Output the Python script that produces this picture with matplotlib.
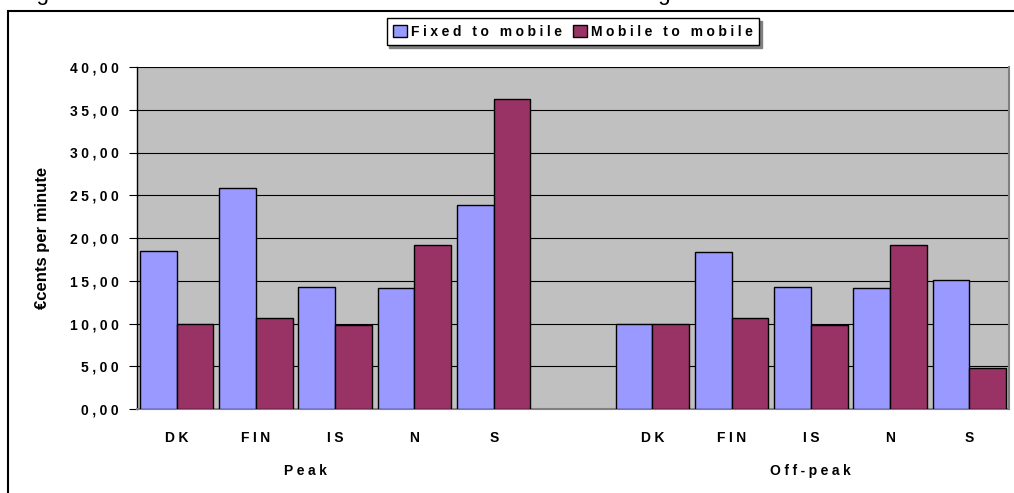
import matplotlib
matplotlib.use("Agg")
import matplotlib.pyplot as plt
from matplotlib.patches import Rectangle, Patch
from matplotlib.transforms import blended_transform_factory

plt.rcParams['font.family'] = ['Liberation Sans', 'DejaVu Sans']

# data
countries = ['DK', 'FIN', 'IS', 'N', 'S']
periods = ['Peak', 'Off-peak']
fixed_peak = [18.5, 25.8, 14.3, 14.2, 23.9]
mobile_peak = [10.0, 10.7, 9.8, 19.2, 36.3]
fixed_off = [10.0, 18.4, 14.3, 14.2, 15.1]
mobile_off = [10.0, 10.7, 9.8, 19.2, 4.8]
yticks = [0, 5, 10, 15, 20, 25, 30, 35, 40]

FIXED = '#9999FF'
MOBILE = '#993366'
SEP = '\u2005'  # a bit of letter spacing like the Excel rendering


def spaced(s):
    return SEP.join(s)


# slot positions: 5 peak, one empty slot, 5 off-peak
pos_peak = list(range(5))
pos_off = [p + 6 for p in range(5)]
w = 0.463

fig = plt.figure(figsize=(10.14, 4.93), dpi=100)
ax = fig.add_axes([137 / 1014, 1 - 409 / 493, 872 / 1014, 342 / 493])
ax.set_facecolor('#C0C0C0')

ax.bar([p - w / 2 for p in pos_peak], fixed_peak, w, color=FIXED, edgecolor='black', lw=1, zorder=3)
ax.bar([p + w / 2 for p in pos_peak], mobile_peak, w, color=MOBILE, edgecolor='black', lw=1, zorder=3)
ax.bar([p - w / 2 for p in pos_off], fixed_off, w, color=FIXED, edgecolor='black', lw=1, zorder=3)
ax.bar([p + w / 2 for p in pos_off], mobile_off, w, color=MOBILE, edgecolor='black', lw=1, zorder=3)

ax.set_xlim(-0.5, 10.5)
ax.set_ylim(0, 40)
ax.set_yticks(yticks)
ax.set_yticklabels([spaced(('%.2f' % v).replace('.', ',')) for v in yticks],
                   fontsize=10, fontweight='bold')
ax.yaxis.grid(True, color='black', lw=0.8, zorder=1)
ax.set_axisbelow(True)
ax.tick_params(axis='y', direction='out', length=6, width=0.8, pad=7)

ax.set_xticks(pos_peak + pos_off)
ax.set_xticklabels([spaced(c) for c in countries] * 2, fontsize=10, fontweight='bold')
ax.tick_params(axis='x', length=0, pad=16)

ax.spines['top'].set_visible(False)
ax.spines['left'].set_color('black')
ax.spines['left'].set_linewidth(1)
ax.spines['bottom'].set_color('#808080')
ax.spines['bottom'].set_linewidth(1.5)
ax.spines['right'].set_color('#808080')
ax.spines['right'].set_linewidth(1.5)

trans = blended_transform_factory(ax.transData, ax.transAxes)
ax.text(1.63, -0.18, spaced(periods[0]), transform=trans, ha='center', va='center',
        fontsize=10, fontweight='bold')
ax.text(8.0, -0.18, spaced(periods[1]), transform=trans, ha='center', va='center',
        fontsize=10, fontweight='bold')

fig.text(0.042, 1 - 238 / 493, '€cents per minute', rotation=90, ha='center', va='center',
         fontsize=12, fontweight='bold')

# chart frame and the caption above it, which is cut off by the image edge
fig.patches.append(Rectangle((8 / 1014, -0.1), 1.2, 1 - 11 / 493 + 0.1, transform=fig.transFigure,
                             fill=False, edgecolor='black', lw=1.5))
fig.text(18 / 1014, 1.0, 'Figure 4.9: Fixed to mobile and mobile to mobile termination charges',
         ha='left', va='baseline', fontsize=16)

handles = [Patch(facecolor=FIXED, edgecolor='black', lw=1),
           Patch(facecolor=MOBILE, edgecolor='black', lw=1)]
leg = fig.legend(handles, [spaced('Fixed to mobile'), spaced('Mobile to mobile')],
                 loc='center', bbox_to_anchor=(573 / 1014, 1 - 31.5 / 493), ncol=2,
                 frameon=True, fancybox=False, edgecolor='black', framealpha=1,
                 shadow={'color': '#808080', 'alpha': 1},
                 prop={'size': 10, 'weight': 'bold'},
                 handlelength=1.0, handleheight=1.0, handletextpad=0.3, columnspacing=0.8,
                 borderpad=0.45, borderaxespad=0)
leg.get_frame().set_linewidth(1)

fig.savefig('out.png', dpi=100)
